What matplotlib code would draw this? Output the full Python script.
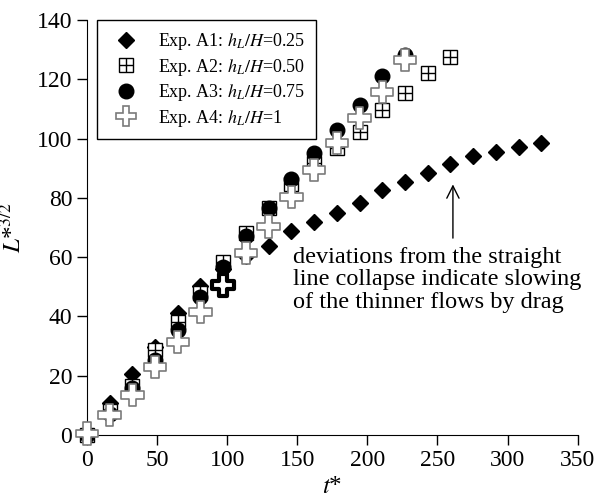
import matplotlib.pyplot as plt
import numpy as np

plt.rcParams['font.family'] = ['Liberation Serif', 'DejaVu Serif']
plt.rcParams['mathtext.fontset'] = 'stix'

# time steps (t*)
t = np.array([0, 16.2, 32.4, 48.6, 64.8, 81, 97.2, 113.4, 129.6, 145.8, 162,
              178.2, 194.4, 210.6, 226.8, 243, 259.2, 275.4, 291.6, 307.8, 324])

# Exp. A1 (hL/H = 0.25)
a1 = [0, 10.8, 20.6, 29.7, 41.2, 50.4, 56, 60.5, 63.8, 68.8, 72, 75,
      78.3, 82.7, 85.5, 88.4, 91.4, 94.1, 95.6, 97.2, 98.5]
# Exp. A2 (hL/H = 0.50)
a2 = [0, 8, 16.5, 28.6, 38, 48, 58.4, 68, 76.5, 84.8, 91.8, 97,
      102.2, 109.8, 115.3, 122.2, 127.5]
# Exp. A3 (hL/H = 0.75)
a3 = [0, 7, 15.8, 25.3, 35.4, 46.6, 56.7, 67.3, 76.6, 86.3, 95, 103,
      111.5, 121.2, 128.2]
# Exp. A4 (hL/H = 1)
a4 = [0.5, 6.7, 13.5, 23, 31.4, 41.5, 50.6, 61.4, 70.3, 80.3, 89.4, 98.5,
      107, 115.7, 126.5]

labels = ['Exp. A1: $h_L/H$=0.25', 'Exp. A2: $h_L/H$=0.50',
          'Exp. A3: $h_L/H$=0.75', 'Exp. A4: $h_L/H$=1']

fig = plt.figure(figsize=(5.95, 5.04), dpi=100)
ax = fig.add_axes([0.146, 0.137, 0.825, 0.823])

# A1 diamonds
ax.plot(t[:len(a1)], a1, 'D', color='black', ms=8.5, clip_on=False, zorder=3)
# A2 squares with inner cross
ax.plot(t[:len(a2)], a2, 's', mfc='white', mec='black', mew=1.0, ms=9.5,
        clip_on=False, zorder=4)
ax.plot(t[:len(a2)], a2, '+', color='black', mew=1.0, ms=9.5,
        clip_on=False, zorder=4)
# A3 circles
ax.plot(t[:len(a3)], a3, 'o', color='black', ms=10.5, clip_on=False, zorder=5)
# A4 open crosses, one drawn in bold
lw4 = np.full(len(a4), 1.2)
ec4 = ['#7a7a7a'] * len(a4)
lw4[6] = 3.0
ec4[6] = 'black'
ax.scatter(t[:len(a4)], a4, marker='P', s=260, facecolors='white',
           edgecolors=ec4, linewidths=lw4, clip_on=False, zorder=6)

# legend proxies
h1, = ax.plot([], [], 'D', color='black', ms=8.5)
h2a, = ax.plot([], [], 's', mfc='white', mec='black', mew=1.0, ms=9.5)
h2b, = ax.plot([], [], '+', color='black', mew=1.0, ms=9.5)
h3, = ax.plot([], [], 'o', color='black', ms=10.5)
h4, = ax.plot([], [], 'P', mfc='white', mec='#7a7a7a', mew=1.2, ms=15)
leg = ax.legend([h1, (h2a, h2b), h3, h4], labels, loc='upper left',
                bbox_to_anchor=(0.02, 1.0), borderaxespad=0, fontsize=13,
                frameon=True, fancybox=False, framealpha=1,
                edgecolor='black', handletextpad=0.8,
                labelspacing=0.25, borderpad=0.6, handlelength=2.0)
leg.get_frame().set_linewidth(1.0)
leg.set_zorder(10)

ax.annotate('', xy=(261, 85.5), xytext=(261, 65.5),
            arrowprops=dict(arrowstyle='->', color='black', lw=1.0,
                            mutation_scale=22))
ax.text(147, 63.5, 'deviations from the straight\nline collapse indicate slowing\nof the thinner flows by drag',
        fontsize=17.5, va='top', ha='left', linespacing=1.1)

ax.set_xlim(0, 350)
ax.set_ylim(0, 140)
ax.set_xticks(np.arange(0, 351, 50))
ax.set_yticks(np.arange(0, 141, 20))
ax.spines['top'].set_visible(False)
ax.spines['right'].set_visible(False)
ax.tick_params(direction='out', length=7, width=1, labelsize=17)
ax.set_xlabel('$t$*', fontsize=18, labelpad=4)
ax.set_ylabel('$L$*$^{3/2}$', fontsize=18, labelpad=8)

fig.savefig('out.png', dpi=100)
